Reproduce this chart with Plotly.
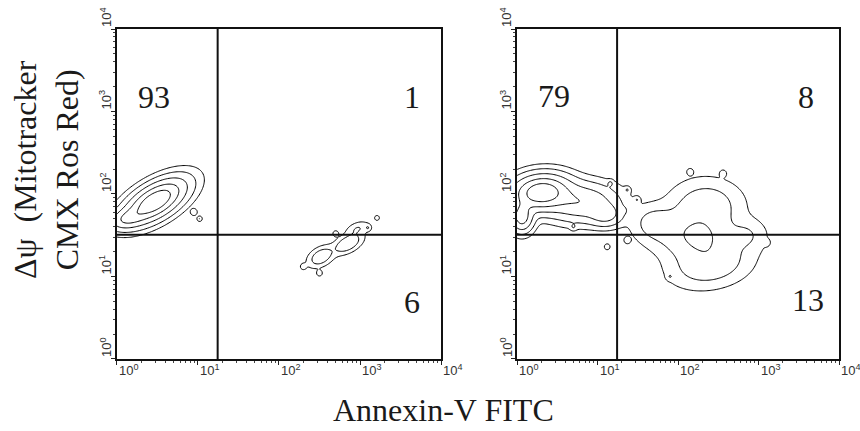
import numpy as np
import plotly.graph_objects as go

# Quadrant percentages (UL, UR, LR) for the two samples
quad_left = ["93", "1", "6"]
quad_right = ["79", "8", "13"]

# Quadrant gates (fluorescence units)
gate_annexin = 17.5
gate_mito = 32.0

# Population components in log10 units: centre x, centre y, spread x, spread y, correlation, weight
left_cx = [0.47, 0.12, 0.95, 1.02, 2.85, 2.52, 2.97, 2.30, 2.50, 3.10, 3.21, 2.70]
left_cy = [1.91, 1.70, 1.78, 1.70, 1.40, 1.24, 1.58, 1.12, 1.04, 1.59, 1.71, 1.52]
left_sx = [0.21, 0.12, 0.025, 0.02, 0.10, 0.09, 0.08, 0.025, 0.025, 0.025, 0.02, 0.025]
left_sy = [0.15, 0.07, 0.025, 0.02, 0.07, 0.07, 0.05, 0.025, 0.025, 0.025, 0.02, 0.025]
left_rho = [0.60, 0.30, 0.0, 0.0, 0.50, 0.40, 0.4, 0.0, 0.0, 0.0, 0.0, 0.0]
left_w = [85.0, 8.0, 0.12, 0.08, 2.8, 2.4, 0.7, 0.08, 0.08, 0.1, 0.06, 0.08]

right_cx = [0.30, 0.80, 0.06, 1.10,
            2.35, 2.10, 2.40, 1.70, 2.85, 2.30,
            1.16, 1.37, 1.49, 1.32, 1.12, 1.37, 2.15, 2.56, 3.10, 1.90, 0.70]
right_cy = [2.02, 1.90, 1.72, 1.75,
            1.85, 1.50, 1.15, 1.65, 1.50, 1.48,
            2.13, 2.05, 1.93, 1.80, 1.36, 1.44, 2.27, 2.25, 1.41, 1.00, 1.60]
right_sx = [0.20, 0.25, 0.08, 0.12,
            0.25, 0.30, 0.28, 0.15, 0.15, 0.20,
            0.025, 0.025, 0.025, 0.025, 0.025, 0.025, 0.025, 0.025, 0.025, 0.025, 0.025]
right_sy = [0.12, 0.13, 0.10, 0.08,
            0.18, 0.18, 0.16, 0.12, 0.12, 0.15,
            0.025, 0.025, 0.025, 0.025, 0.025, 0.025, 0.025, 0.025, 0.025, 0.025, 0.025]
right_rho = [0.10, 0.00, 0.00, 0.00,
             0.0, -0.2, 0.2, 0.0, 0.0, 0.0,
             0, 0, 0, 0, 0, 0, 0, 0, 0, 0, 0]
right_w = [45.0, 22.0, 8.0, 4.0,
           10.0, 10.0, 10.0, 2.5, 2.0, 6.0,
           0.06, 0.06, 0.06, 0.06, 0.05, 0.06, 0.05, 0.05, 0.05, 0.05, 0.05]

# Contour levels on the distance scale -sqrt(-2 ln(density / peak))
level_start, level_end, level_step = -2.9, -0.8, 0.5

grid = np.linspace(0.0, 4.0, 281)
GX, GY = np.meshgrid(grid, grid)


def density(cx, cy, sx, sy, rho, w):
    z = np.zeros_like(GX)
    for a, b, s1, s2, r, wt in zip(cx, cy, sx, sy, rho, w):
        dx = (GX - a) / s1
        dy = (GY - b) / s2
        q = (dx * dx - 2 * r * dx * dy + dy * dy) / (1 - r * r)
        z += wt / (s1 * s2 * np.sqrt(1 - r * r)) * np.exp(-0.5 * q)
    f = np.clip(z / z.max(), 1e-12, 1.0)
    return -np.sqrt(-2.0 * np.log(f))


z_left = density(left_cx, left_cy, left_sx, left_sy, left_rho, left_w)
z_right = density(right_cx, right_cy, right_sx, right_sy, right_rho, right_w)

fig = go.Figure()

for z, xa, ya in [(z_left, "x", "y"), (z_right, "x2", "y2")]:
    fig.add_trace(go.Contour(
        x=10 ** grid, y=10 ** grid, z=z,
        xaxis=xa, yaxis=ya,
        contours=dict(coloring="lines", start=level_start, end=level_end, size=level_step),
        colorscale=[[0, "black"], [1, "black"]],
        line=dict(width=1, color="black"),
        showscale=False, hoverinfo="skip",
    ))
    # quadrant gate lines
    fig.add_trace(go.Scatter(x=[gate_annexin, gate_annexin], y=[1, 1e4], mode="lines",
                             line=dict(color="#111", width=2), xaxis=xa, yaxis=ya,
                             showlegend=False, hoverinfo="skip"))
    fig.add_trace(go.Scatter(x=[1, 1e4], y=[gate_mito, gate_mito], mode="lines",
                             line=dict(color="#111", width=2), xaxis=xa, yaxis=ya,
                             showlegend=False, hoverinfo="skip"))

decades = [0, 1, 2, 3, 4]
tick_font = dict(family="Liberation Sans", size=13, color="#333")


def serif():
    return dict(family="Liberation Serif", size=32, color="#1a1a1a")


axis_common = dict(
    type="log", range=[0, 4], dtick=1, showgrid=False, zeroline=False,
    showline=True, mirror=True, linecolor="#111", linewidth=1.5,
    ticks="outside", ticklen=4, tickwidth=1, tickcolor="#222",
    showticklabels=False,
    minor=dict(ticks="outside", ticklen=2, tickwidth=1, tickcolor="#444", dtick="D1"),
)

ydom = [0.1671, 0.9327]
fig.update_layout(
    width=860, height=431,
    margin=dict(l=0, r=0, t=0, b=0),
    paper_bgcolor="white", plot_bgcolor="white",
    showlegend=False,
    xaxis=dict(domain=[0.1360, 0.5128], anchor="y", **axis_common),
    yaxis=dict(domain=ydom, anchor="x", **axis_common),
    xaxis2=dict(domain=[0.6012, 0.9756], anchor="y2", **axis_common),
    yaxis2=dict(domain=ydom, anchor="x2", **axis_common),
)

ann = []
for xr, yr in [("x", "y"), ("x2", "y2")]:
    for d in decades:
        ann.append(dict(text=f"10<sup>{d}</sup>", xref=xr, yref=yr + " domain", x=d, y=0,
                        xanchor="left", yanchor="top", yshift=-1, showarrow=False,
                        font=tick_font))
        ann.append(dict(text=f"10<sup>{d}</sup>", xref=xr + " domain", yref=yr, x=0, y=d,
                        xanchor="right", yanchor="bottom", xshift=-1, textangle=-90,
                        showarrow=False, font=tick_font))

# quadrant percentages (pixel centres converted to paper units)
quad_pos_left = [(154, 97), (412, 97), (412, 302)]
quad_pos_right = [(554, 96), (806, 97), (808, 300)]
for labels, pos in [(quad_left, quad_pos_left), (quad_right, quad_pos_right)]:
    for t, (px, py) in zip(labels, pos):
        ann.append(dict(text=t, xref="paper", yref="paper", x=px / 860, y=1 - py / 431,
                        xanchor="center", yanchor="middle", showarrow=False, font=serif()))

ann.append(dict(text="Annexin-V FITC", xref="paper", yref="paper", x=443 / 860, y=1 - 410 / 431,
                xanchor="center", yanchor="middle", showarrow=False, font=serif()))
ann.append(dict(text="Δψ&nbsp; (Mitotracker<br>CMX Ros Red)", xref="paper", yref="paper",
                x=46 / 860, y=1 - 170 / 431, xanchor="center", yanchor="middle",
                textangle=-90, showarrow=False, font=serif()))

fig.update_layout(annotations=ann)
fig.write_html("out.html")
